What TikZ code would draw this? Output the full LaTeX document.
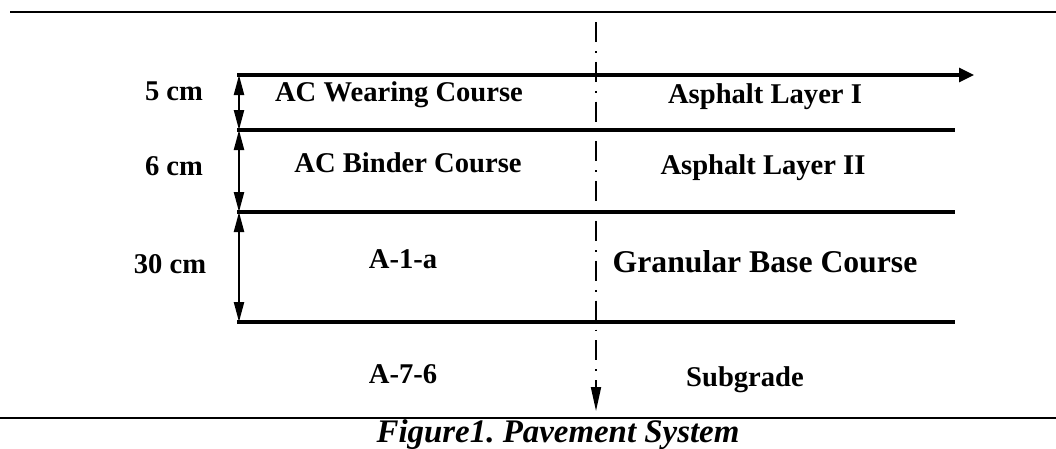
\documentclass[tikz,border=0pt]{standalone}
\usepackage{fontspec}
\setmainfont{Liberation Serif}
\usetikzlibrary{arrows.meta}
\frenchspacing
\tikzset{
  layer/.style={line width=3.2pt},
  rule/.style={line width=2pt},
  dim/.style={line width=2.2pt,{Triangle[length=20pt,width=10pt]}-{Triangle[length=20pt,width=10pt]}},
  axis/.style={line width=1.8pt,dash pattern=on 20pt off 9pt on 1.8pt off 9pt,-{Triangle[length=24pt,width=10pt]}},
  lbl/.style={anchor=base,inner sep=0pt,font=\bfseries\fontsize{28.6}{30}\selectfont},
  big/.style={anchor=base,inner sep=0pt,font=\bfseries\fontsize{31.7}{33}\selectfont},
  captext/.style={anchor=base,inner sep=0pt,font=\bfseries\itshape\fontsize{32.9}{34}\selectfont}
}
\begin{document}
\begin{tikzpicture}[x=1pt,y=-1pt]
\useasboundingbox (0,0) rectangle (1056,448);
% rules
\coordinate (t1) at (10,12); \coordinate (t2) at (1056,12);
\coordinate (b1) at (0,418); \coordinate (b2) at (1056,418);
\draw[rule] (t1) -- (t2);
\draw[rule] (b1) -- (b2);
% layer lines
\coordinate (l0a) at (237,75); \coordinate (l0b) at (974,75);
\coordinate (l1a) at (237,130); \coordinate (l1b) at (955,130);
\coordinate (l2a) at (237,212); \coordinate (l2b) at (955,212);
\coordinate (l3a) at (237,322); \coordinate (l3b) at (955,322);
\draw[layer,-{Triangle[length=15pt,width=14pt]}] (l0a) -- (l0b);
\draw[layer] (l1a) -- (l1b);
\draw[layer] (l2a) -- (l2b);
\draw[layer] (l3a) -- (l3b);
% dimension arrows
\coordinate (d0) at (239,75); \coordinate (d1) at (239,130);
\coordinate (d2) at (239,212); \coordinate (d3) at (239,322);
\draw[dim] (d0) -- (d1);
\draw[dim] (d1) -- (d2);
\draw[dim] (d2) -- (d3);
% centre axis
\coordinate (a0) at (596,22); \coordinate (a1) at (596,411);
\draw[axis] (a0) -- (a1);
% labels
\node[lbl] (h1) at (174,100) {5 cm};
\node[lbl] (h2) at (174,175) {6 cm};
\node[lbl] (h3) at (170,273) {30 cm};
\node[lbl] (m1) at (399,101) {AC Wearing Course};
\node[lbl] (m2) at (408,172) {AC Binder Course};
\node[lbl] (m3) at (403,268) {A-1-a};
\node[lbl] (m4) at (403,383) {A-7-6};
\node[lbl] (r1) at (765,103) {Asphalt Layer I};
\node[lbl] (r2) at (763,174) {Asphalt Layer II};
\node[big] (r3) at (765,272) {Granular Base Course};
\node[lbl] (r4) at (745,386) {Subgrade};
\node[captext] (c) at (558,442) {Figure1. Pavement System};
\end{tikzpicture}
\end{document}
